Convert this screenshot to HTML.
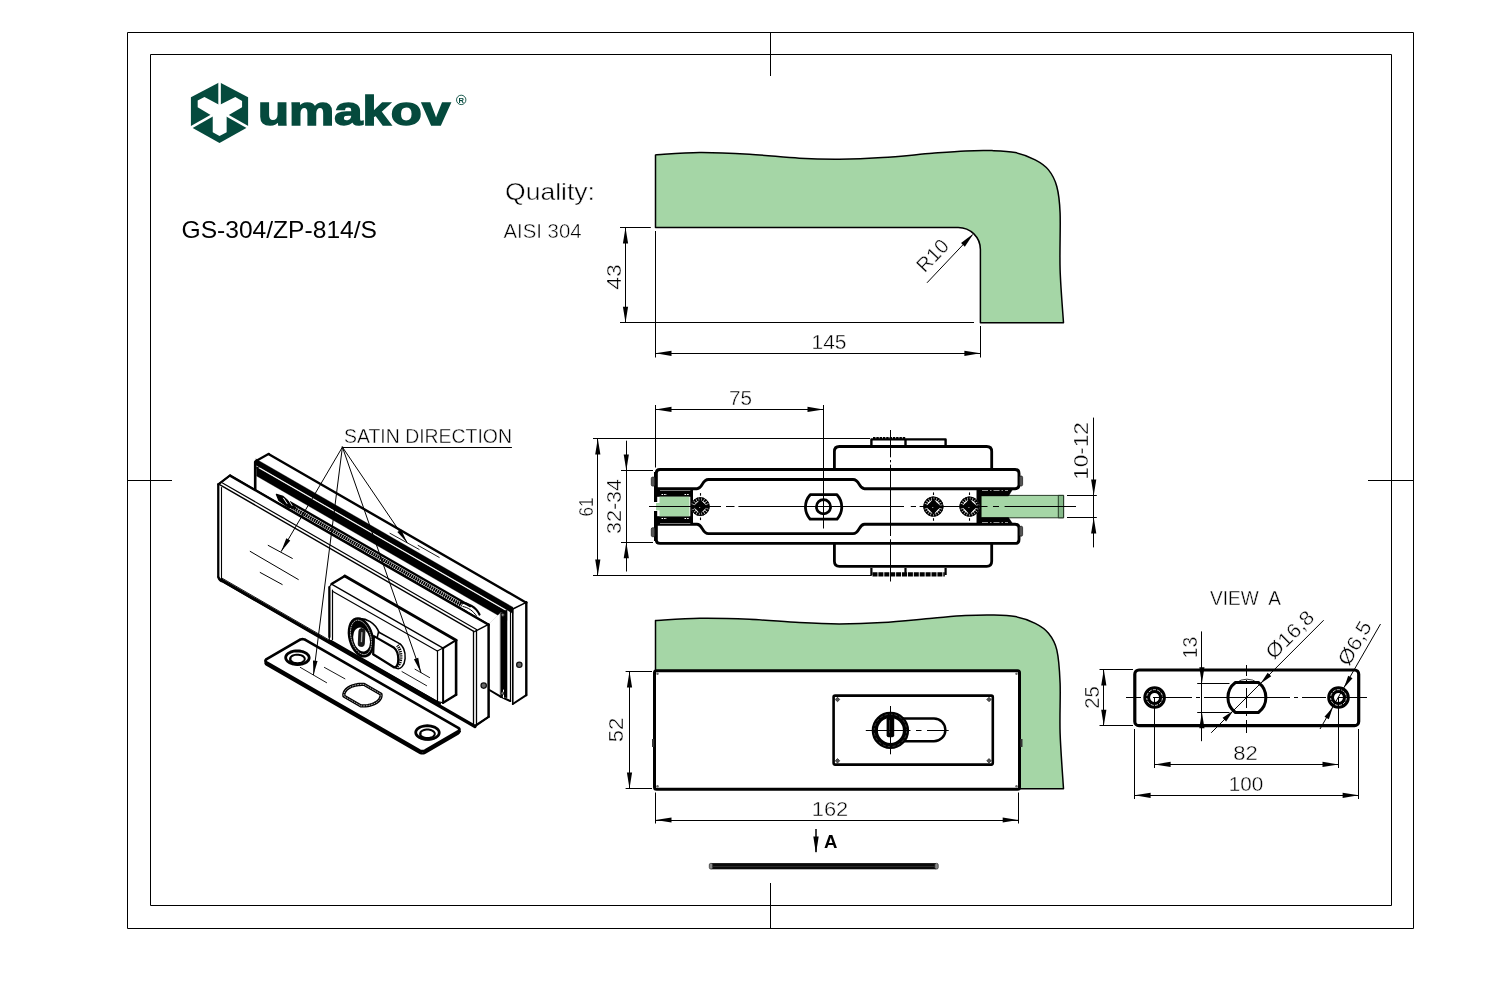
<!DOCTYPE html>
<html><head><meta charset="utf-8"><title>GS-304/ZP-814/S</title>
<style>
html,body{margin:0;padding:0;background:#fff;}
body{width:1505px;height:997px;overflow:hidden;font-family:"Liberation Sans",sans-serif;}
svg{display:block;font-family:"Liberation Sans",sans-serif;will-change:transform;}
</style></head><body>
<svg width="1505" height="997" viewBox="0 0 1505 997" fill="none" stroke="#000" stroke-width="1" stroke-linecap="butt" stroke-linejoin="round">
<rect x="0" y="0" width="1505" height="997" fill="#fff" stroke="none"/>
<g id="labels">
<text x="505" y="200" font-size="24" text-anchor="start" font-weight="normal" fill="#000" stroke="#fff" stroke-width="0.45" textLength="90" lengthAdjust="spacingAndGlyphs">Quality:</text>
<text x="503.5" y="238.2" font-size="20.8" text-anchor="start" font-weight="normal" fill="#000" stroke="#fff" stroke-width="0.45" textLength="78" lengthAdjust="spacingAndGlyphs">AISI 304</text>
<text x="181.5" y="237.6" font-size="23.2" text-anchor="start" font-weight="normal" fill="#000" stroke="none" textLength="195.5" lengthAdjust="spacingAndGlyphs">GS-304/ZP-814/S</text>
<text x="621" y="277" font-size="20" text-anchor="middle" font-weight="normal" fill="#000" stroke="#fff" stroke-width="0.38" transform="rotate(-90 621 277)"  textLength="25.5" lengthAdjust="spacingAndGlyphs">43</text>
<text x="829" y="348.6" font-size="20" text-anchor="middle" font-weight="normal" fill="#000" stroke="#fff" stroke-width="0.38"  textLength="35" lengthAdjust="spacingAndGlyphs">145</text>
<text x="937.5" y="260.3" font-size="20" text-anchor="middle" font-weight="normal" fill="#000" stroke="#fff" stroke-width="0.38" transform="rotate(-46.5 937.5 260.3)" >R10</text>
<text x="740.5" y="404.6" font-size="20" text-anchor="middle" font-weight="normal" fill="#000" stroke="#fff" stroke-width="0.38"  textLength="23" lengthAdjust="spacingAndGlyphs">75</text>
<text x="592.5" y="507" font-size="20" text-anchor="middle" font-weight="normal" fill="#000" stroke="#fff" stroke-width="0.38" transform="rotate(-90 592.5 507)"  textLength="19" lengthAdjust="spacingAndGlyphs">61</text>
<text x="620.5" y="506.5" font-size="20" text-anchor="middle" font-weight="normal" fill="#000" stroke="#fff" stroke-width="0.38" transform="rotate(-90 620.5 506.5)"  textLength="55" lengthAdjust="spacingAndGlyphs">32-34</text>
<text x="1088" y="451" font-size="20" text-anchor="middle" font-weight="normal" fill="#000" stroke="#fff" stroke-width="0.38" transform="rotate(-90 1088 451)"  textLength="57.5" lengthAdjust="spacingAndGlyphs">10-12</text>
<text x="623.3" y="730" font-size="20" text-anchor="middle" font-weight="normal" fill="#000" stroke="#fff" stroke-width="0.38" transform="rotate(-90 623.3 730)"  textLength="24.5" lengthAdjust="spacingAndGlyphs">52</text>
<text x="830" y="816.3" font-size="20" text-anchor="middle" font-weight="normal" fill="#000" stroke="#fff" stroke-width="0.38"  textLength="36.5" lengthAdjust="spacingAndGlyphs">162</text>
<text x="830.8" y="847.5" font-size="18.6" text-anchor="middle" font-weight="bold" fill="#000" stroke="none" >A</text>
<text x="1245.5" y="604.8" font-size="19.5" text-anchor="middle" font-weight="normal" fill="#000" stroke="#fff" stroke-width="0.38" textLength="71" lengthAdjust="spacingAndGlyphs" xml:space="preserve">VIEW  A</text>
<text x="1099.3" y="697.5" font-size="20" text-anchor="middle" font-weight="normal" fill="#000" stroke="#fff" stroke-width="0.38" transform="rotate(-90 1099.3 697.5)"  textLength="22.5" lengthAdjust="spacingAndGlyphs">25</text>
<text x="1197" y="647.5" font-size="20" text-anchor="middle" font-weight="normal" fill="#000" stroke="#fff" stroke-width="0.38" transform="rotate(-90 1197 647.5)"  textLength="21.5" lengthAdjust="spacingAndGlyphs">13</text>
<text x="1294.6" y="639.5" font-size="20" text-anchor="middle" font-weight="normal" fill="#000" stroke="#fff" stroke-width="0.38" transform="rotate(-45 1294.6 639.5)"  textLength="59" lengthAdjust="spacingAndGlyphs">Ø16,8</text>
<text x="1360.5" y="646.5" font-size="20" text-anchor="middle" font-weight="normal" fill="#000" stroke="#fff" stroke-width="0.38" transform="rotate(-60 1360.5 646.5)"  textLength="47.5" lengthAdjust="spacingAndGlyphs">Ø6,5</text>
<text x="1245.5" y="759.5" font-size="20" text-anchor="middle" font-weight="normal" fill="#000" stroke="#fff" stroke-width="0.38"  textLength="24.5" lengthAdjust="spacingAndGlyphs">82</text>
<text x="1246" y="790.8" font-size="20" text-anchor="middle" font-weight="normal" fill="#000" stroke="#fff" stroke-width="0.38"  textLength="34.5" lengthAdjust="spacingAndGlyphs">100</text>
<text x="344" y="442.6" font-size="20.5" text-anchor="start" font-weight="normal" fill="#000" stroke="#fff" stroke-width="0.4" textLength="168" lengthAdjust="spacingAndGlyphs">SATIN DIRECTION</text>
</g>
<g id="frame">
<rect x="127.5" y="32.5" width="1286" height="896" />
<rect x="150.5" y="54.5" width="1241" height="851" />
<line x1="770.5" y1="32.5" x2="770.5" y2="76" stroke-width="1" />
<line x1="770.5" y1="883" x2="770.5" y2="928.5" stroke-width="1" />
<line x1="127.5" y1="480.5" x2="172" y2="480.5" stroke-width="1" />
<line x1="1368" y1="480.5" x2="1413.5" y2="480.5" stroke-width="1" />
</g>
<g id="logo" stroke="none">
<g transform="translate(180 75) scale(0.07525)">
<polygon points="525,95 905,295 905,690 525,905 145,690 145,295" fill="#054a3d"/>
<polygon points="235,340 325,292 525,398 735,292 825,345 825,430 620,548 620,760 525,810 435,760 435,548 235,430" fill="#fff"/>
<g stroke="#fff" stroke-width="34" stroke-linecap="butt">
<line x1="526" y1="80" x2="526" y2="420"/>
<line x1="440" y1="530" x2="130" y2="705"/>
<line x1="612" y1="530" x2="922" y2="705"/>
</g></g>
<text x="0" y="0" transform="translate(258 124.8) scale(1.272 1)" font-size="40" font-weight="bold" fill="#054a3d" stroke="#054a3d" stroke-width="1.5" stroke-linejoin="miter">umakov</text>
<circle cx="461.2" cy="99.9" r="4.7" fill="none" stroke="#054a3d" stroke-width="0.9"/>
<text x="461.3" y="102.6" font-size="7.6" font-weight="bold" text-anchor="middle" fill="#054a3d">R</text>
</g>
<g id="topview">
<path d="M655.5 227.4 L655.5 154.9 C662.87 154.52 684.03 152.7 699.7 152.6 C715.37 152.5 732.9 153.37 749.5 154.3 C766.1 155.23 784.35 157.38 799.3 158.2 C814.25 159.02 825.35 159.3 839.2 159.2 C853.05 159.1 866.9 158.58 882.4 157.6 C897.9 156.62 918.37 154.42 932.2 153.3 C946.03 152.18 955.43 151.35 965.4 150.9 C975.37 150.45 983.68 150.32 992 150.6 C1000.32 150.88 1008.1 151.05 1015.3 152.6 C1022.5 154.15 1029.67 157.02 1035.2 159.9 C1040.73 162.78 1044.9 165.47 1048.5 169.9 C1052.1 174.33 1054.87 179.32 1056.8 186.5 C1058.73 193.68 1059.55 199.17 1060.1 213 C1060.65 226.83 1059.53 251.22 1060.1 269.5 C1060.67 287.78 1062.93 313.83 1063.5 322.7 L980.4 322.7 L980.4 249.6 A22.2 22.2 0 0 0 958.2 227.4 Z" stroke-width="1.5" fill="#a5d6a6" />
<line x1="620" y1="227.5" x2="650.8" y2="227.5" stroke-width="1" />
<line x1="620" y1="322.5" x2="974" y2="322.5" stroke-width="1" />
<line x1="625.5" y1="227.4" x2="625.5" y2="322.7" stroke-width="1" />
<polygon points="625.5,227.4 628.1,243.4 622.9,243.4" fill="#000" stroke="none"/>
<polygon points="625.5,322.7 622.9,306.7 628.1,306.7" fill="#000" stroke="none"/>
<line x1="655.5" y1="231" x2="655.5" y2="357.5" stroke-width="1" />
<line x1="980.5" y1="326" x2="980.5" y2="357.5" stroke-width="1" />
<line x1="655.5" y1="353.5" x2="980.4" y2="353.5" stroke-width="1" />
<polygon points="655.5,353.3 671.5,350.7 671.5,355.9" fill="#000" stroke="none"/>
<polygon points="980.4,353.3 964.4,355.9 964.4,350.7" fill="#000" stroke="none"/>
<line x1="927" y1="282.8" x2="972" y2="235.2" stroke-width="1" />
<polygon points="973.6,233.6 964.84,246.65 961.06,243.08" fill="#000" stroke="none"/>
</g>
<g id="midview">
<path d="M834.4 469 V451.5 Q834.4 446.5 839.4 446.5 H986.7 Q991.7 446.5 991.7 451.5 V469" stroke-width="2.8" fill="none" />
<path d="M834.4 544 V561.3 Q834.4 566.3 839.4 566.3 H986.7 Q991.7 566.3 991.7 561.3 V544" stroke-width="2.8" fill="none" />
<path d="M871.4 446 V439.4 H945.6 V446 M905.5 439.4 V446" stroke-width="2.4" fill="none" />
<line x1="873" y1="438.2" x2="906" y2="438.2" stroke-width="2.4" stroke-dasharray="2.5 0.8"/>
<path d="M871.4 568 V575 M945.6 568 V575 M905.5 568 V575" stroke-width="2.2" fill="none" />
<line x1="872.5" y1="574.3" x2="944.8" y2="574.3" stroke-width="4.2" stroke-dasharray="5 0.9"/>
<path d="M660 469.5 H1015 Q1019 469.5 1019 473.5 V484.8 Q1019 488.7 1015 488.7 H864.5 C858.5 488.7 860 479.5 853 479.5 H708.5 C701.5 479.5 703 488.7 697 488.7 H656.3 V473 Q656.3 469.5 660 469.5 Z" stroke-width="2.9" fill="#fff" />
<path d="M660 543.4 H1015 Q1019 543.4 1019 539.4 V528.2 Q1019 524.2 1015 524.2 H864.5 C858.5 524.2 860 533.6 853 533.6 H708.5 C701.5 533.6 703 524.2 697 524.2 H656.3 V540 Q656.3 543.4 660 543.4 Z" stroke-width="2.9" fill="#fff" />
<line x1="655.6" y1="472" x2="655.6" y2="502" stroke-width="3.2" />
<line x1="655.6" y1="511" x2="655.6" y2="541" stroke-width="3.2" />
<rect x="651.3" y="477.1" width="3.4" height="9" rx="1.4" fill="#555" stroke="#222" stroke-width="0.8"/>
<rect x="651.3" y="527.7" width="3.4" height="9" rx="1.4" fill="#555" stroke="#222" stroke-width="0.8"/>
<rect x="1019.6" y="476" width="3" height="10" rx="1.4" fill="#555" stroke="#222" stroke-width="0.8"/>
<rect x="1019.6" y="526.2" width="3" height="10" rx="1.4" fill="#555" stroke="#222" stroke-width="0.8"/>
<rect x="656" y="489.8" width="37" height="7" fill="#000" stroke="none"/>
<rect x="656" y="516.2" width="37" height="7.6" fill="#000" stroke="none"/>
<rect x="690.3" y="489.8" width="2.7" height="34" fill="#000" stroke="none"/>
<rect x="659.5" y="496.7" width="30" height="19.6" fill="#a5d6a6" stroke="none"/>
<rect x="656" y="503" width="4" height="7.4" fill="#a5d6a6" stroke="none"/>
<line x1="660" y1="490.5" x2="690.3" y2="490.5" stroke-width="0.6" stroke="#ccc"/>
<line x1="660" y1="523.5" x2="690.3" y2="523.5" stroke-width="0.6" stroke="#ccc"/>
<line x1="661.5" y1="494.5" x2="667" y2="494.5" stroke-width="1" stroke="#fff" stroke-dasharray="1.6 1"/>
<line x1="684.5" y1="494.5" x2="689" y2="494.5" stroke-width="1" stroke="#fff" stroke-dasharray="1.6 1"/>
<line x1="661.5" y1="518.5" x2="667" y2="518.5" stroke-width="1" stroke="#fff" stroke-dasharray="1.6 1"/>
<line x1="684.5" y1="518.5" x2="689" y2="518.5" stroke-width="1" stroke="#fff" stroke-dasharray="1.6 1"/>
<rect x="981" y="495.4" width="82.6" height="22.4" fill="#a5d6a6" stroke="#1a2a1a" stroke-width="0.9"/>
<rect x="1058.3" y="495.4" width="5.3" height="22.4" fill="#86b98a" stroke="#1a2a1a" stroke-width="0.9"/>
<path d="M976.8 489.5 H1012.5 L1008.5 495.9 H981 V517.6 H1008.5 L1012.5 523.6 H976.8 Z" stroke-width="0.5" fill="#000" />
<line x1="982" y1="490.5" x2="1008" y2="490.5" stroke-width="0.6" stroke="#fff" stroke-dasharray="6 2 1.5 2"/>
<line x1="982" y1="522.5" x2="1008" y2="522.5" stroke-width="0.6" stroke="#fff" stroke-dasharray="6 2 1.5 2"/>
<path d="M810.2 494.7 H837 A18.2 18.2 0 0 1 837 519.2 H810.2 A18.2 18.2 0 0 1 810.2 494.7 Z" stroke-width="2.8" fill="#fff" />
<circle cx="823.5" cy="506.8" r="7.1" stroke-width="2.7" fill="#fff"/>
<g>
<circle cx="700.3" cy="506.6" r="9.3" fill="#fff" stroke="none"/>
<circle cx="700.3" cy="506.6" r="7.6" fill="none" stroke="#000" stroke-width="3.4" stroke-dasharray="2.1 0.55"/>
<circle cx="700.3" cy="506.6" r="9" fill="none" stroke="#000" stroke-width="0.9"/>
<path d="M700.3 500.09 L703.37 503.53 L706.81 506.6 L703.37 509.67 L700.3 513.11 L697.23 509.67 L693.79 506.6 L697.23 503.53 Z" fill="#000" stroke="#000" stroke-width="1.2"/>
<circle cx="699.7" cy="507.5" r="0.55" fill="#ddd" stroke="none"/>
<line x1="700.5" y1="493.1" x2="700.5" y2="495.7" stroke-width="1.1" />
<line x1="700.5" y1="517.5" x2="700.5" y2="520.1" stroke-width="1.1" />
</g>
<g>
<circle cx="933.4" cy="506.6" r="10" fill="#fff" stroke="none"/>
<circle cx="933.4" cy="506.6" r="8.3" fill="none" stroke="#000" stroke-width="3.4" stroke-dasharray="2.1 0.55"/>
<circle cx="933.4" cy="506.6" r="9.7" fill="none" stroke="#000" stroke-width="0.9"/>
<path d="M933.4 499.6 L936.7 503.3 L940.4 506.6 L936.7 509.9 L933.4 513.6 L930.1 509.9 L926.4 506.6 L930.1 503.3 Z" fill="#000" stroke="#000" stroke-width="1.2"/>
<circle cx="932.8" cy="507.5" r="0.55" fill="#ddd" stroke="none"/>
<line x1="933.5" y1="492.4" x2="933.5" y2="495" stroke-width="1.1" />
<line x1="933.5" y1="518.2" x2="933.5" y2="520.8" stroke-width="1.1" />
</g>
<g>
<circle cx="969.5" cy="506.6" r="10" fill="#fff" stroke="none"/>
<circle cx="969.5" cy="506.6" r="8.3" fill="none" stroke="#000" stroke-width="3.4" stroke-dasharray="2.1 0.55"/>
<circle cx="969.5" cy="506.6" r="9.7" fill="none" stroke="#000" stroke-width="0.9"/>
<path d="M969.5 499.6 L972.8 503.3 L976.5 506.6 L972.8 509.9 L969.5 513.6 L966.2 509.9 L962.5 506.6 L966.2 503.3 Z" fill="#000" stroke="#000" stroke-width="1.2"/>
<circle cx="968.9" cy="507.5" r="0.55" fill="#ddd" stroke="none"/>
<line x1="969.5" y1="492.4" x2="969.5" y2="495" stroke-width="1.1" />
<line x1="969.5" y1="518.2" x2="969.5" y2="520.8" stroke-width="1.1" />
</g>
<line x1="649" y1="506.5" x2="721" y2="506.5" stroke-width="1" />
<line x1="726" y1="506.5" x2="734.5" y2="506.5" stroke-width="1" />
<line x1="738.4" y1="506.5" x2="904" y2="506.5" stroke-width="1" />
<line x1="910.8" y1="506.5" x2="916" y2="506.5" stroke-width="1" />
<line x1="919.6" y1="506.5" x2="987.5" y2="506.5" stroke-width="1" />
<line x1="993" y1="506.5" x2="999" y2="506.5" stroke-width="1" />
<line x1="1004.6" y1="506.5" x2="1076" y2="506.5" stroke-width="1" />
<line x1="890.5" y1="430" x2="890.5" y2="457.3" stroke-width="1" />
<line x1="890.5" y1="460" x2="890.5" y2="462.3" stroke-width="1" />
<line x1="890.5" y1="464.7" x2="890.5" y2="536" stroke-width="1" />
<line x1="890.5" y1="539.3" x2="890.5" y2="581.5" stroke-width="1" />
<line x1="655.5" y1="405" x2="655.5" y2="467.5" stroke-width="1" />
<line x1="823.5" y1="405" x2="823.5" y2="528.5" stroke-width="1" />
<line x1="655.5" y1="409.5" x2="823.5" y2="409.5" stroke-width="1" />
<polygon points="655.5,409.4 671.5,406.8 671.5,412" fill="#000" stroke="none"/>
<polygon points="823.5,409.4 807.5,412 807.5,406.8" fill="#000" stroke="none"/>
<line x1="593" y1="438.5" x2="870" y2="438.5" stroke-width="1" />
<line x1="593" y1="575.5" x2="871.8" y2="575.5" stroke-width="1" />
<line x1="597.5" y1="438.5" x2="597.5" y2="575.5" stroke-width="1" />
<polygon points="597.8,438.5 600.4,454.5 595.2,454.5" fill="#000" stroke="none"/>
<polygon points="597.8,575.5 595.2,559.5 600.4,559.5" fill="#000" stroke="none"/>
<line x1="621" y1="470.5" x2="653" y2="470.5" stroke-width="1" />
<line x1="621" y1="542.5" x2="653" y2="542.5" stroke-width="1" />
<line x1="626.5" y1="440.7" x2="626.5" y2="571.5" stroke-width="1" />
<polygon points="626.3,470.5 623.7,454.5 628.9,454.5" fill="#000" stroke="none"/>
<polygon points="626.3,542.3 628.9,558.3 623.7,558.3" fill="#000" stroke="none"/>
<line x1="1067" y1="495.5" x2="1096.8" y2="495.5" stroke-width="1" />
<line x1="1067" y1="517.5" x2="1096.8" y2="517.5" stroke-width="1" />
<line x1="1093.5" y1="417.6" x2="1093.5" y2="547.4" stroke-width="1" />
<polygon points="1093.7,495.4 1091.1,479.4 1096.3,479.4" fill="#000" stroke="none"/>
<polygon points="1093.7,517.6 1096.3,533.6 1091.1,533.6" fill="#000" stroke="none"/>
</g>
<g id="botview">
<path d="M655.5 700 L655.5 620.6 C662.87 620.22 684.03 618.52 699.7 618.3 C715.37 618.08 732.9 618.58 749.5 619.3 C766.1 620.02 784.35 621.83 799.3 622.6 C814.25 623.37 825.35 623.9 839.2 623.9 C853.05 623.9 866.9 623.53 882.4 622.6 C897.9 621.67 918.37 619.47 932.2 618.3 C946.03 617.13 955.43 616.15 965.4 615.6 C975.37 615.05 983.68 614.83 992 615 C1000.32 615.17 1008.1 615.22 1015.3 616.6 C1022.5 617.98 1029.67 620.53 1035.2 623.3 C1040.73 626.07 1044.9 628.78 1048.5 633.2 C1052.1 637.62 1054.87 641.5 1056.8 649.8 C1058.73 658.1 1059.55 669.15 1060.1 683 C1060.65 696.85 1059.53 715.28 1060.1 732.9 C1060.67 750.52 1062.93 779.4 1063.5 788.7 L1000 788.7 L1000 700 Z" stroke-width="1.5" fill="#a5d6a6" />
<rect x="654.5" y="670.8" width="365" height="118.4" rx="2" fill="#fff" stroke-width="3"/>
<circle cx="657.5" cy="673.7" r="1.2" fill="#666" stroke="none"/>
<circle cx="1016.5" cy="673.7" r="1.2" fill="#666" stroke="none"/>
<circle cx="657.5" cy="786.3" r="1.2" fill="#666" stroke="none"/>
<circle cx="1016.5" cy="786.3" r="1.2" fill="#666" stroke="none"/>
<rect x="652" y="739" width="2.2" height="8" fill="#333" stroke="none"/>
<rect x="1020.3" y="739" width="2.2" height="8" fill="#333" stroke="none"/>
<rect x="833.6" y="695.6" width="159.2" height="69" rx="1.5" fill="#fff" stroke-width="2.6"/>
<rect x="835.9" y="697.9" width="3.2" height="3.2" transform="rotate(45 837.5 699.5)" fill="#555" stroke="#111" stroke-width="0.6"/>
<rect x="987.4" y="697.9" width="3.2" height="3.2" transform="rotate(45 989 699.5)" fill="#555" stroke="#111" stroke-width="0.6"/>
<rect x="835.9" y="759.2" width="3.2" height="3.2" transform="rotate(45 837.5 760.8)" fill="#555" stroke="#111" stroke-width="0.6"/>
<rect x="987.4" y="759.2" width="3.2" height="3.2" transform="rotate(45 989 760.8)" fill="#555" stroke="#111" stroke-width="0.6"/>
<path d="M903 718.5 H934 A11.4 11.4 0 0 1 934 741.3 H903" stroke-width="2.4" fill="#fff" />
<circle cx="890.4" cy="730.4" r="15.6" fill="#fff" stroke="#000" stroke-width="6.2"/>
<circle cx="890.4" cy="730.4" r="16.2" fill="none" stroke="#777" stroke-width="0.5" stroke-dasharray="3 2"/>
<rect x="886.6" y="717.2" width="7.6" height="20" rx="2" fill="#000" stroke="none"/>
<rect x="889.6" y="720" width="1.3" height="13" fill="#777" stroke="none"/>
<line x1="865.8" y1="730.5" x2="910.5" y2="730.5" stroke-width="1" />
<line x1="916" y1="730.5" x2="921.5" y2="730.5" stroke-width="1" />
<line x1="927" y1="730.5" x2="948.7" y2="730.5" stroke-width="1" />
<line x1="890.5" y1="706" x2="890.5" y2="754.3" stroke-width="1" />
<line x1="625.6" y1="671.5" x2="652" y2="671.5" stroke-width="1" />
<line x1="625.6" y1="788.5" x2="652" y2="788.5" stroke-width="1" />
<line x1="629.5" y1="671.5" x2="629.5" y2="788.5" stroke-width="1" />
<polygon points="629.5,671.5 632.1,687.5 626.9,687.5" fill="#000" stroke="none"/>
<polygon points="629.5,788.5 626.9,772.5 632.1,772.5" fill="#000" stroke="none"/>
<line x1="655.5" y1="792.5" x2="655.5" y2="823.5" stroke-width="1" />
<line x1="1018.5" y1="792.5" x2="1018.5" y2="823.5" stroke-width="1" />
<line x1="655.5" y1="820.5" x2="1018.7" y2="820.5" stroke-width="1" />
<polygon points="655.5,820 671.5,817.4 671.5,822.6" fill="#000" stroke="none"/>
<polygon points="1018.7,820 1002.7,822.6 1002.7,817.4" fill="#000" stroke="none"/>
<line x1="816" y1="829" x2="816" y2="852" stroke-width="1.5" />
<polygon points="816,853.6 813.3,836.6 818.7,836.6" fill="#000" stroke="none"/>
<rect x="711.5" y="863.1" width="224.5" height="6.2" fill="#0a0a0a" stroke="none"/>
<line x1="713" y1="866.5" x2="935" y2="866.5" stroke-width="0.7" stroke="#3a3a3a"/>
<rect x="709.3" y="863.4" width="3.4" height="5.6" rx="1.4" fill="#888" stroke="#222" stroke-width="0.7"/>
<rect x="934.8" y="863.4" width="3.4" height="5.6" rx="1.4" fill="#888" stroke="#222" stroke-width="0.7"/>
</g>
<g id="viewA">
<rect x="1134.8" y="670" width="223.9" height="55.7" rx="4.2" fill="#fff" stroke-width="3.2"/>
<circle cx="1154.6" cy="697.5" r="7.9" stroke-width="6.8" fill="#fff"/>
<circle cx="1154.6" cy="697.5" r="7.9" stroke="#fff" stroke-width="0.8" stroke-dasharray="3.2 1.2"/>
<circle cx="1338.5" cy="697.5" r="7.9" stroke-width="6.8" fill="#fff"/>
<circle cx="1338.5" cy="697.5" r="7.9" stroke="#fff" stroke-width="0.8" stroke-dasharray="3.2 1.2"/>
<path d="M1235.8 683 A18 18 0 0 1 1258 683" stroke-width="0.8" fill="none" />
<path d="M1235.4 682.5 H1258.4 A18.8 18.8 0 0 1 1258.4 712.5 H1235.4 A18.8 18.8 0 0 1 1235.4 682.5 Z" stroke-width="3" fill="none" />
<line x1="1126" y1="697.5" x2="1141" y2="697.5" stroke-width="1" />
<line x1="1145" y1="697.5" x2="1149" y2="697.5" stroke-width="1" />
<line x1="1153" y1="697.5" x2="1192" y2="697.5" stroke-width="1" />
<line x1="1196" y1="697.5" x2="1200" y2="697.5" stroke-width="1" />
<line x1="1204" y1="697.5" x2="1290" y2="697.5" stroke-width="1" />
<line x1="1294" y1="697.5" x2="1298" y2="697.5" stroke-width="1" />
<line x1="1302" y1="697.5" x2="1326" y2="697.5" stroke-width="1" />
<line x1="1330" y1="697.5" x2="1334" y2="697.5" stroke-width="1" />
<line x1="1338" y1="697.5" x2="1367" y2="697.5" stroke-width="1" />
<line x1="1246.5" y1="665" x2="1246.5" y2="676" stroke-width="1" />
<line x1="1246.5" y1="680" x2="1246.5" y2="684" stroke-width="1" />
<line x1="1246.5" y1="688" x2="1246.5" y2="708" stroke-width="1" />
<line x1="1246.5" y1="712" x2="1246.5" y2="716" stroke-width="1" />
<line x1="1246.5" y1="720" x2="1246.5" y2="733" stroke-width="1" />
<line x1="1099.5" y1="669.5" x2="1133" y2="669.5" stroke-width="1" />
<line x1="1099.5" y1="725.5" x2="1133" y2="725.5" stroke-width="1" />
<line x1="1103.5" y1="669.5" x2="1103.5" y2="725.8" stroke-width="1" />
<polygon points="1103.8,669.5 1106.4,685.5 1101.2,685.5" fill="#000" stroke="none"/>
<polygon points="1103.8,725.8 1101.2,709.8 1106.4,709.8" fill="#000" stroke="none"/>
<line x1="1197.2" y1="683.5" x2="1229.5" y2="683.5" stroke-width="1" />
<line x1="1197.2" y1="712.5" x2="1229.5" y2="712.5" stroke-width="1" />
<line x1="1201.5" y1="631.4" x2="1201.5" y2="741.2" stroke-width="1" />
<polygon points="1201.9,683.2 1199.3,667.2 1204.5,667.2" fill="#000" stroke="none"/>
<polygon points="1201.9,712.2 1204.5,728.2 1199.3,728.2" fill="#000" stroke="none"/>
<line x1="1323.7" y1="620.2" x2="1211.2" y2="732.8" stroke-width="1" />
<polygon points="1260.6,683.4 1267.67,672.79 1271.21,676.33" fill="#000" stroke="none"/>
<polygon points="1233.2,710.8 1226.13,721.41 1222.59,717.87" fill="#000" stroke="none"/>
<line x1="1380.5" y1="624" x2="1320" y2="729" stroke-width="1" />
<polygon points="1344.1,687.8 1348.18,675.72 1352.52,678.22" fill="#000" stroke="none"/>
<polygon points="1332.9,707.2 1328.82,719.28 1324.48,716.78" fill="#000" stroke="none"/>
<line x1="1154.5" y1="697.5" x2="1154.5" y2="768" stroke-width="1" />
<line x1="1338.5" y1="697.5" x2="1338.5" y2="768" stroke-width="1" />
<line x1="1154.6" y1="764.5" x2="1338.5" y2="764.5" stroke-width="1" />
<polygon points="1154.6,764.4 1170.6,761.8 1170.6,767" fill="#000" stroke="none"/>
<polygon points="1338.5,764.4 1322.5,767 1322.5,761.8" fill="#000" stroke="none"/>
<line x1="1134.5" y1="729" x2="1134.5" y2="799" stroke-width="1" />
<line x1="1358.5" y1="729" x2="1358.5" y2="799" stroke-width="1" />
<line x1="1134.6" y1="795.5" x2="1358.6" y2="795.5" stroke-width="1" />
<polygon points="1134.6,795.3 1150.6,792.7 1150.6,797.9" fill="#000" stroke="none"/>
<polygon points="1358.6,795.3 1342.6,797.9 1342.6,792.7" fill="#000" stroke="none"/>
</g>
<g id="iso" stroke-linejoin="round" stroke-linecap="round">
<polygon points="255.6,461.3 268.9,453.8 526.3,602.3 526.3,695.1 512.8,704 512.8,640 255.6,492" stroke-width="0" fill="#fff" stroke="none"/>
<line x1="268.9" y1="454.23" x2="526.3" y2="602.75" stroke-width="2.4" />
<line x1="255.6" y1="461.3" x2="268.9" y2="453.8" stroke-width="2.2" />
<line x1="255.2" y1="462" x2="255.2" y2="489" stroke-width="2.6" />
<line x1="526.3" y1="602.3" x2="526.3" y2="695.1" stroke-width="2.4" />
<line x1="512.8" y1="609" x2="512.8" y2="704" stroke-width="1.6" />
<line x1="510.5" y1="610.5" x2="510.5" y2="701.5" stroke-width="1.2" />
<line x1="512.8" y1="704" x2="526.3" y2="695.1" stroke-width="2" />
<line x1="512.8" y1="609" x2="526.3" y2="602.3" stroke-width="1.4" />
<circle cx="519.3" cy="664.8" r="2.7" fill="#666" stroke="#111" stroke-width="1.2"/>
<polygon points="256,458.98 513,607.27 513,613.57 256,465.28" stroke-width="0.3" fill="#000" />
<polygon points="256.5,466.97 507,611.51 507,620.51 256.5,475.97" stroke-width="0.3" fill="#000" />
<line x1="258" y1="467.14" x2="505" y2="609.65" stroke-width="0.8" stroke="#fff"/>
<line x1="256.5" y1="468" x2="262" y2="465.5" stroke-width="1.2" />
<polygon points="488.6,624.4 500.6,612.5 507,612 507,697 500.6,696.7 488.6,689.5" stroke-width="0.1" fill="#fff" />
<polygon points="500.6,613 507,610 507,698 500.6,695.5" stroke-width="0.5" fill="#000" />
<line x1="488.6" y1="689.5" x2="500.6" y2="696.7" stroke-width="2" />
<line x1="500.6" y1="696.7" x2="510.2" y2="701" stroke-width="2" />
<line x1="503.5" y1="690" x2="503.5" y2="697.5" stroke-width="1" stroke="#fff"/>
<circle cx="502.8" cy="614.8" r="1.6" fill="#888" stroke="#111" stroke-width="0.8"/>
<circle cx="502.5" cy="693.3" r="1.5" fill="#888" stroke="#111" stroke-width="0.8"/>
<line x1="290" y1="502.2" x2="470" y2="606.06" stroke-width="2.4" />
<line x1="292" y1="507.25" x2="462" y2="605.34" stroke-width="3.6" stroke-dasharray="1.7 0.6" stroke-linecap="butt"/>
<line x1="284" y1="505.94" x2="466" y2="610.95" stroke-width="1.1" />
<path d="M276.5 494.5 L283 496.5 L291 503.5 L296 508.5 L288 507 L279 500.5 Z" stroke-width="1.4" fill="#000" />
<line x1="283.5" y1="498.2" x2="287" y2="503.5" stroke-width="1" stroke="#fff"/>
<line x1="288.5" y1="499.8" x2="292" y2="505.5" stroke-width="0.9" stroke="#fff"/>
<path d="M461 602.5 C468 603 476 607 479.5 614.5" stroke-width="2.2" fill="none" />
<path d="M463 606.5 C468 607.5 473 610.5 476.5 616" stroke-width="1" fill="none" />
<polygon points="218.3,484.4 230.1,475.4 488.6,624.4 488.6,716.8 475,726 223,582 218.3,577" stroke-width="1.4" fill="#fff" />
<line x1="230.1" y1="475.64" x2="488.6" y2="624.79" stroke-width="2.4" />
<line x1="218.3" y1="484.4" x2="230.1" y2="475.4" stroke-width="2" />
<line x1="222.5" y1="482.95" x2="476.5" y2="629.51" stroke-width="1.2" />
<line x1="218.3" y1="483.93" x2="474.2" y2="631.58" stroke-width="1.4" />
<line x1="218.3" y1="484.4" x2="218.3" y2="577" stroke-width="2.2" />
<line x1="221.5" y1="487.5" x2="221.5" y2="579.5" stroke-width="1.1" />
<path d="M218.3 577 Q218.6 580 221.5 581.3" stroke-width="2" fill="none" />
<line x1="221.5" y1="580.18" x2="475" y2="726.45" stroke-width="3.3" />
<line x1="222" y1="578.16" x2="330" y2="640.48" stroke-width="0.9" />
<line x1="473.5" y1="631.5" x2="473.5" y2="725.5" stroke-width="1.3" />
<line x1="476.5" y1="630" x2="476.5" y2="724.8" stroke-width="1.3" />
<line x1="488.6" y1="624.4" x2="488.6" y2="716.8" stroke-width="2.4" />
<line x1="475" y1="726" x2="488.6" y2="716.8" stroke-width="2.2" />
<line x1="475" y1="631.4" x2="488.6" y2="624.4" stroke-width="1.4" />
<circle cx="483.7" cy="685.6" r="2.7" fill="#666" stroke="#111" stroke-width="1.2"/>
<line x1="268.2" y1="545.4" x2="292.3" y2="558.4" stroke-width="1" />
<line x1="250.2" y1="551.4" x2="298.3" y2="579.5" stroke-width="1" />
<line x1="260.2" y1="572.5" x2="282.2" y2="584.5" stroke-width="1" />
<line x1="390" y1="533.3" x2="419.1" y2="549.4" stroke-width="0.9" />
<line x1="418.1" y1="545.4" x2="439.2" y2="557.4" stroke-width="0.9" />
<polygon points="329.3,587 331.5,584 344.8,575.9 456.1,640.2 456.1,694.8 443.1,702.8 437.5,701.5 329.3,640.5" stroke-width="1.2" fill="#fff" />
<line x1="344.8" y1="575.9" x2="456.1" y2="640.2" stroke-width="2.9" />
<line x1="331.5" y1="584" x2="344.8" y2="575.9" stroke-width="2.4" />
<line x1="331.5" y1="584.1" x2="443.1" y2="648.1" stroke-width="1.3" />
<line x1="332.5" y1="591.2" x2="437.3" y2="651" stroke-width="1.1" />
<line x1="329.4" y1="587" x2="329.4" y2="637" stroke-width="2.2" />
<line x1="332.5" y1="590" x2="332.5" y2="639.5" stroke-width="1.2" />
<line x1="437.5" y1="651" x2="437.5" y2="700.5" stroke-width="1.2" />
<line x1="443.1" y1="648.1" x2="443.1" y2="702.8" stroke-width="2" />
<line x1="456.1" y1="640.2" x2="456.1" y2="694.8" stroke-width="2.6" />
<line x1="443.1" y1="702.8" x2="456.1" y2="694.8" stroke-width="2.4" />
<line x1="443.1" y1="648.1" x2="456.1" y2="640.2" stroke-width="2" />
<line x1="437.3" y1="651" x2="443.1" y2="648.1" stroke-width="1.1" />
<line x1="331" y1="640.86" x2="440" y2="703.75" stroke-width="2.2" />
<path d="M378.5 632 L398.7 643.2 A12.6 7.4 86 0 1 396.5 668.3 L373.2 654.3 Z" stroke-width="1.5" fill="#fff" />
<path d="M397.2 645.6 A11.6 6.4 85 0 1 396.2 666.8" stroke-width="3.2" fill="none" stroke-dasharray="1.2 0.9" stroke-linecap="butt"/>
<path d="M373.9 636.1 L394.1 647.8 A10.4 5.2 82 0 1 394.3 667.5 L373.2 654.3 Z" stroke-width="2.2" fill="#fff" />
<path d="M357.5 618.8 C366 617.5 375.5 623 379 632.5" stroke-width="1.7" fill="none" />
<g transform="translate(361 637.4) rotate(75)"><ellipse rx="19.8" ry="11.8" fill="#000" stroke="#000" stroke-width="1.6"/><ellipse rx="17.6" ry="9.8" fill="none" stroke="#fff" stroke-width="0.7" stroke-dasharray="0.9 1.5"/></g>
<g transform="translate(361.6 639.5) rotate(75)"><ellipse rx="12.2" ry="8.1" fill="#fff" stroke="none"/></g>
<g transform="translate(361.6 637.6) rotate(3)"><rect x="-3" y="-8.8" width="6" height="17.6" rx="2.2" fill="#1a1a1a" stroke="#000" stroke-width="0.8"/><rect x="-0.6" y="-5.5" width="1.3" height="10" fill="#aaa" stroke="none"/></g>
<line x1="402" y1="671.6" x2="426.6" y2="685.7" stroke-width="0.9" />
<line x1="415" y1="669.2" x2="429.6" y2="677.6" stroke-width="0.9" />
<polygon points="458.31,733.53 458.94,733.05 459.32,732.49 459.45,731.9 459.3,731.3 458.89,730.74 458.25,730.26 305.35,642.24 304.52,641.87 303.55,641.64 302.52,641.56 301.49,641.63 300.53,641.86 299.71,642.23 266.59,661.57 265.96,662.05 265.58,662.61 265.45,663.2 265.6,663.8 266.01,664.36 266.65,664.84 419.55,752.86 420.38,753.23 421.35,753.46 422.38,753.54 423.41,753.47 424.37,753.24 425.19,752.87" stroke-width="2" fill="#fff" />
<polygon points="458.31,731.13 458.94,730.65 459.32,730.09 459.45,729.5 459.3,728.9 458.89,728.34 458.25,727.86 305.35,639.84 304.52,639.47 303.55,639.24 302.52,639.16 301.49,639.23 300.53,639.46 299.71,639.83 266.59,659.17 265.96,659.65 265.58,660.21 265.45,660.8 265.6,661.4 266.01,661.96 266.65,662.44 419.55,750.46 420.38,750.83 421.35,751.06 422.38,751.14 423.41,751.07 424.37,750.84 425.19,750.47" stroke-width="2.7" fill="#fff" />
<line x1="265.39" y1="663.11" x2="421.61" y2="753.04" stroke-width="1.6" />
<line x1="423.17" y1="753.05" x2="460.33" y2="731.35" stroke-width="1.4" />
<polygon points="305.83,662.56 307.01,661.75 307.95,660.84 308.64,659.85 309.05,658.82 309.17,657.75 309,656.69 308.55,655.64 307.82,654.66 306.84,653.74 305.63,652.93 304.21,652.23 302.63,651.66 300.92,651.25 299.12,651 297.28,650.91 295.45,650.99 293.66,651.23 291.96,651.63 290.41,652.19 289.02,652.88 287.84,653.69 286.89,654.6 286.21,655.58 285.8,656.62 285.68,657.68 285.85,658.75 286.3,659.79 287.02,660.78 288.01,661.69 289.22,662.51 290.64,663.21 292.22,663.77 293.93,664.18 295.73,664.44 297.57,664.53 299.4,664.45 301.19,664.2 302.88,663.8 304.44,663.25 305.83,662.56" stroke-width="2.8" fill="#fff" />
<polygon points="302.66,661.93 303.39,661.43 303.98,660.86 304.41,660.25 304.66,659.6 304.74,658.94 304.63,658.27 304.35,657.63 303.9,657.01 303.29,656.44 302.53,655.93 301.65,655.5 300.67,655.15 299.6,654.89 298.48,654.73 297.34,654.68 296.19,654.73 295.08,654.88 294.02,655.13 293.05,655.47 292.19,655.9 291.46,656.41 290.87,656.97 290.44,657.59 290.19,658.23 290.11,658.9 290.21,659.56 290.5,660.21 290.95,660.82 291.56,661.39 292.32,661.9 293.2,662.33 294.18,662.69 295.25,662.94 296.37,663.1 297.51,663.16 298.66,663.11 299.77,662.96 300.82,662.7 301.79,662.36 302.66,661.93" stroke-width="2" fill="#fff" />
<polyline points="290.76,658.71 290.38,659.31 290.16,659.94 290.11,660.59 290.24,661.23 290.53,661.86 290.98,662.46 291.58,663.01 292.32,663.5 293.17,663.92 294.13,664.27 295.16,664.53 296.24,664.69 297.35,664.76 298.47,664.72 299.56,664.59 300.59,664.37" stroke-width="1.6" fill="none"/>
<polygon points="435.88,737.42 437.06,736.61 438.01,735.7 438.69,734.72 439.1,733.68 439.22,732.62 439.05,731.55 438.6,730.51 437.88,729.52 436.89,728.61 435.68,727.79 434.26,727.09 432.68,726.53 430.97,726.12 429.17,725.86 427.33,725.77 425.5,725.85 423.71,726.1 422.02,726.5 420.46,727.05 419.07,727.74 417.89,728.55 416.95,729.46 416.26,730.45 415.85,731.48 415.73,732.55 415.9,733.61 416.35,734.66 417.08,735.64 418.06,736.56 419.27,737.37 420.69,738.07 422.27,738.64 423.98,739.05 425.78,739.3 427.62,739.39 429.45,739.31 431.24,739.07 432.94,738.67 434.49,738.11 435.88,737.42" stroke-width="2.8" fill="#fff" />
<polygon points="432.71,736.8 433.44,736.29 434.03,735.73 434.46,735.11 434.71,734.47 434.79,733.8 434.69,733.14 434.4,732.49 433.95,731.88 433.34,731.31 432.58,730.8 431.7,730.37 430.72,730.01 429.65,729.76 428.53,729.6 427.39,729.54 426.24,729.59 425.13,729.74 424.08,730 423.11,730.34 422.24,730.77 421.51,731.27 420.92,731.84 420.49,732.45 420.24,733.1 420.16,733.76 420.27,734.43 420.55,735.07 421,735.69 421.61,736.26 422.37,736.77 423.25,737.2 424.23,737.55 425.3,737.81 426.42,737.97 427.56,738.02 428.71,737.97 429.82,737.82 430.88,737.57 431.85,737.23 432.71,736.8" stroke-width="2" fill="#fff" />
<polyline points="420.81,733.57 420.43,734.18 420.21,734.81 420.17,735.45 420.29,736.1 420.58,736.73 421.03,737.32 421.63,737.87 422.37,738.37 423.22,738.79 424.18,739.13 425.21,739.39 426.29,739.55 427.41,739.62 428.52,739.59 429.61,739.46 430.65,739.23" stroke-width="1.6" fill="none"/>
<polygon points="360.83,705.88 363.18,705.94 365.52,705.82 367.81,705.54 370.01,705.09 372.1,704.47 374.03,703.72 375.77,702.82 377.31,701.8 378.6,700.68 379.64,699.46 380.4,698.18 380.88,696.85 381.06,695.49 380.95,694.13 364.07,684.42 361.72,684.36 359.38,684.48 357.09,684.76 354.89,685.21 352.8,685.83 350.87,686.58 349.13,687.48 347.59,688.5 346.3,689.62 345.26,690.84 344.5,692.12 344.02,693.45 343.84,694.81 343.95,696.17" stroke-width="3.3" fill="#fff" />
<polygon points="360.83,705.88 363.18,705.94 365.52,705.82 367.81,705.54 370.01,705.09 372.1,704.47 374.03,703.72 375.77,702.82 377.31,701.8 378.6,700.68 379.64,699.46 380.4,698.18 380.88,696.85 381.06,695.49 380.95,694.13 364.07,684.42 361.72,684.36 359.38,684.48 357.09,684.76 354.89,685.21 352.8,685.83 350.87,686.58 349.13,687.48 347.59,688.5 346.3,689.62 345.26,690.84 344.5,692.12 344.02,693.45 343.84,694.81 343.95,696.17" stroke-width="0.7" fill="none" stroke="#fff" stroke-dasharray="1 1.7"/>
<line x1="300.3" y1="667.4" x2="326.6" y2="682.7" stroke-width="0.9" />
<line x1="324.4" y1="667.4" x2="344.9" y2="678.8" stroke-width="0.9" />
<line x1="342.4" y1="447.5" x2="511.5" y2="447.5" stroke-width="1.1" />
<line x1="342.4" y1="447.1" x2="281.2" y2="551.4" stroke-width="1" />
<polygon points="281.2,551.4 286.3,538.16 290.27,540.49" fill="#000" stroke="none"/>
<line x1="342.4" y1="447.1" x2="313.5" y2="674.7" stroke-width="1" />
<polygon points="313.5,674.7 312.98,660.52 317.55,661.1" fill="#000" stroke="none"/>
<line x1="342.4" y1="447.1" x2="421" y2="672.6" stroke-width="1" />
<polygon points="421,672.6 413.89,659.19 418.23,657.68" fill="#000" stroke="none"/>
<line x1="342.4" y1="447.1" x2="407.1" y2="542.4" stroke-width="1" />
<polygon points="407.1,542.4 397.33,532.11 401.14,529.53" fill="#000" stroke="none"/>
</g>
</svg>
</body></html>
